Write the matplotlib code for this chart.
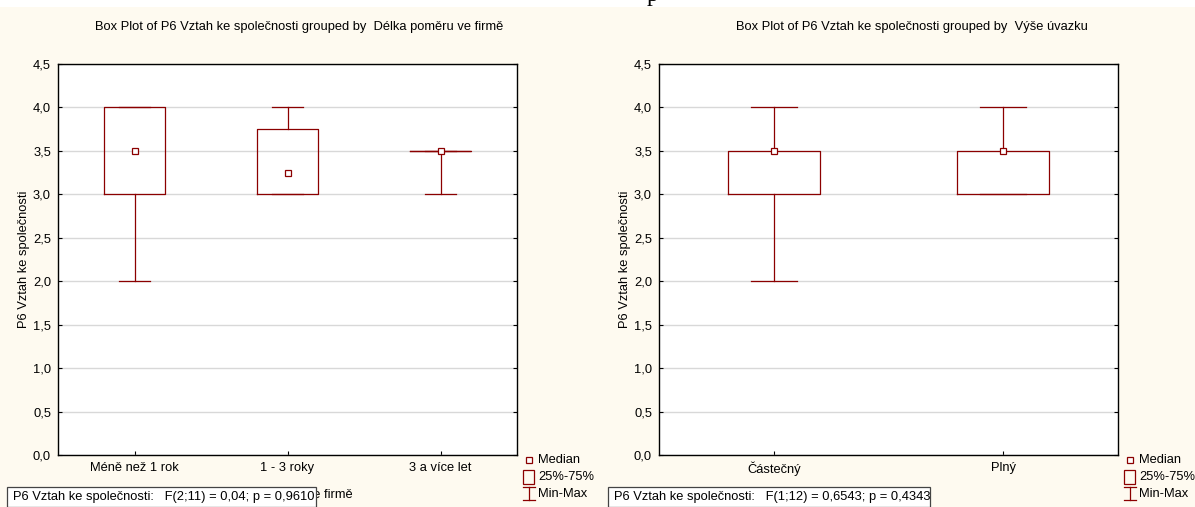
import matplotlib
matplotlib.use("Agg")
import matplotlib.pyplot as plt
from matplotlib.patches import Rectangle
from matplotlib.lines import Line2D
from matplotlib.ticker import FuncFormatter

# --- DATA ---
left_cats = ["Méně než 1 rok", "1 - 3 roky", "3 a více let"]
left_min = [2.0, 3.0, 3.0]
left_q1 = [3.0, 3.0, 3.5]
left_med = [3.5, 3.25, 3.5]
left_q3 = [4.0, 3.75, 3.5]
left_max = [4.0, 4.0, 3.5]

right_cats = ["Částečný", "Plný"]
right_min = [2.0, 3.0]
right_q1 = [3.0, 3.0]
right_med = [3.5, 3.5]
right_q3 = [3.5, 3.5]
right_max = [4.0, 4.0]

yticks = [0, 0.5, 1.0, 1.5, 2.0, 2.5, 3.0, 3.5, 4.0, 4.5]

left_title = "Box Plot of P6 Vztah ke společnosti grouped by  Délka poměru ve firmě"
right_title = "Box Plot of P6 Vztah ke společnosti grouped by  Výše úvazku"
left_xlabel = "Délka poměru ve firmě"
right_xlabel = "Výše úvazku"
ylabel = "P6 Vztah ke společnosti"
left_stats = "P6 Vztah ke společnosti:   F(2;11) = 0,04; p = 0,9610"
right_stats = "P6 Vztah ke společnosti:   F(1;12) = 0,6543; p = 0,4343"

# --- STYLE ---
W, H = 1195, 507
BG = "#fefaf0"
RED = "#8b0000"
FS = 9.3
plt.rcParams["font.family"] = ["Liberation Sans", "DejaVu Sans"]

fig = plt.figure(figsize=(W / 100, H / 100), dpi=100, facecolor=BG)


def fx(px):
    return px / W


def fy(py):
    return 1 - py / H


# white strip at the very top, with the cut-off letter from the page above
fig.patches.append(Rectangle((0, fy(7)), 1, 7 / H, transform=fig.transFigure,
                             facecolor="white", edgecolor="none", zorder=0))
fig.text(fx(647), fy(1), "p", family="Liberation Serif", fontsize=17,
         va="baseline", ha="left", color="black")


def panel(x0, cats, mn, q1, med, q3, mx, title, title_x, xlabel, stats_txt, stats_right):
    ax = fig.add_axes([fx(x0), fy(455), fx(459), 391 / H])
    ax.set_facecolor("white")
    n = len(cats)
    st = [dict(whislo=a, q1=b, med=c, q3=d, whishi=e, fliers=[])
          for a, b, c, d, e in zip(mn, q1, med, q3, mx)]
    pos = list(range(1, n + 1))
    ax.bxp(st, positions=pos, widths=0.4, capwidths=0.2, showfliers=False,
           boxprops=dict(color=RED, lw=0.9),
           whiskerprops=dict(color=RED, lw=0.9),
           capprops=dict(color=RED, lw=0.9),
           medianprops=dict(lw=0))
    ax.plot(pos, med, ls="none", marker="s", ms=4.5, mfc="white",
            mec=RED, mew=0.9, zorder=5)
    ax.set_xlim(0.5, n + 0.5)
    ax.set_ylim(0, 4.5)
    ax.set_yticks(yticks)
    ax.yaxis.set_major_formatter(FuncFormatter(lambda v, p: f"{v:.1f}".replace(".", ",")))
    ax.set_xticks(pos)
    ax.set_xticklabels(cats)
    ax.grid(axis="y", color="#d8d8d8", lw=1.0)
    ax.set_axisbelow(True)
    ax.tick_params(direction="in", length=3, width=0.8, labelsize=FS,
                   right=True, pad=5)
    for s in ax.spines.values():
        s.set_linewidth(1.0)
    ax.set_ylabel(ylabel, fontsize=FS, labelpad=2)
    ax.set_xlabel(xlabel, fontsize=FS, labelpad=11)
    fig.text(fx(title_x), fy(27), title, fontsize=FS, ha="center", va="center")

    # legend
    lx = x0 + 459
    fig.add_artist(Line2D([fx(lx + 12)], [fy(460)], marker="s", ms=4, mfc="white",
                          mec=RED, mew=0.9, ls="none"))
    fig.patches.append(Rectangle((fx(lx + 6), fy(484)), 11 / W, 14 / H,
                                 transform=fig.transFigure, facecolor="none",
                                 edgecolor=RED, lw=0.9))
    fig.add_artist(Line2D([fx(lx + 12)] * 2, [fy(487), fy(500)], color=RED, lw=0.9))
    fig.add_artist(Line2D([fx(lx + 6), fx(lx + 18)], [fy(500)] * 2, color=RED, lw=0.9))
    fig.add_artist(Line2D([fx(lx + 6), fx(lx + 18)], [fy(487)] * 2, color=RED, lw=0.9))
    for yy, t in zip([460, 477, 494], ["Median", "25%-75%", "Min-Max"]):
        fig.text(fx(lx + 21), fy(yy), t, fontsize=FS, va="center", ha="left")

    # stats box (drawn over the x label)
    fig.patches.append(Rectangle((fx(x0 - 51), 0), (stats_right - x0 + 51) / W, fy(487),
                                 transform=fig.transFigure, facecolor="white",
                                 edgecolor="#444444", lw=0.9, zorder=3))
    fig.text(fx(x0 - 45), fy(497), stats_txt, fontsize=FS, va="center", ha="left",
             zorder=4)
    return ax


panel(58, left_cats, left_min, left_q1, left_med, left_q3, left_max,
      left_title, 299, left_xlabel, left_stats, 316)
panel(659, right_cats, right_min, right_q1, right_med, right_q3, right_max,
      right_title, 912, right_xlabel, right_stats, 930)

fig.savefig("out.png", dpi=100, facecolor=BG)
